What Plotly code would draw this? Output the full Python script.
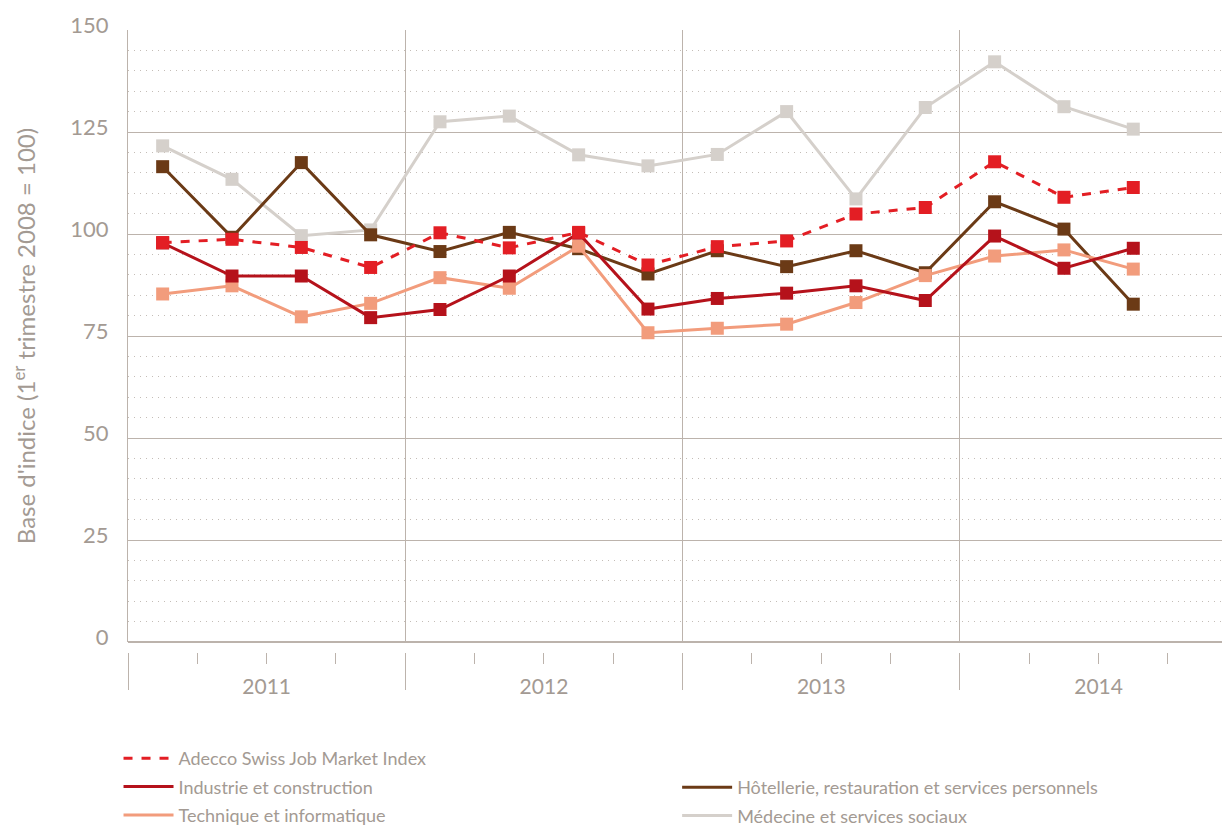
import plotly.graph_objects as go

# ---- data ----
years = ["2011", "2012", "2013", "2014"]
quarters_per_year = 4
adecco = [97.9, 98.7, 96.7, 91.8, 100.3, 96.6, 100.4, 92.4, 96.9, 98.3, 104.9, 106.5, 117.7, 109.0, 111.4]
industrie = [97.8, 89.7, 89.7, 79.5, 81.5, 89.7, 100.2, 81.6, 84.2, 85.5, 87.3, 83.7, 99.5, 91.6, 96.5]
hotellerie = [116.5, 99.2, 117.5, 99.8, 95.7, 100.4, 96.4, 90.2, 95.9, 92.0, 95.9, 90.5, 107.9, 101.2, 82.8]
technique = [85.3, 87.3, 79.7, 83.0, 89.3, 86.7, 97.0, 75.8, 76.9, 77.9, 83.2, 89.8, 94.6, 96.1, 91.4]
medecine = [121.6, 113.4, 99.6, 101.0, 127.5, 128.9, 119.4, 116.7, 119.5, 130.0, 108.6, 131.0, 142.2, 131.2, 125.7]

names = {
    "adecco": "Adecco Swiss Job Market Index",
    "industrie": "Industrie et construction",
    "hotellerie": "Hôtellerie, restauration et services personnels",
    "technique": "Technique et informatique",
    "medecine": "Médecine et services sociaux",
}
colors = {
    "adecco": "#e31e24",
    "industrie": "#b5121b",
    "hotellerie": "#6b3a16",
    "technique": "#f29c7c",
    "medecine": "#d5d0cb",
}
series = {
    "adecco": adecco,
    "industrie": industrie,
    "hotellerie": hotellerie,
    "technique": technique,
    "medecine": medecine,
}

x = [i + 0.5 for i in range(len(adecco))]

TEXT = "#a39a93"
GRID = "#bcb3ac"
FONT = "Lato, sans-serif"

fig = go.Figure()

# draw order bottom -> top
for key in ["medecine", "hotellerie", "technique", "industrie", "adecco"]:
    fig.add_trace(go.Scatter(
        x=x, y=series[key], mode="lines+markers", name=names[key],
        line=dict(color=colors[key], width=3, dash="dash" if key == "adecco" else "solid"),
        marker=dict(symbol="square", size=13, color=colors[key]),
        showlegend=False, hoverinfo="x+y+name",
    ))

# legend-only entries (lines without markers)
for key, leg in [("adecco", "legend"), ("industrie", "legend"), ("technique", "legend"),
                 ("hotellerie", "legend2"), ("medecine", "legend2")]:
    fig.add_trace(go.Scatter(
        x=[None], y=[None], mode="lines", name=names[key],
        line=dict(color=colors[key], width=3, dash="dash" if key == "adecco" else "solid"),
        legend=leg, legendgroup=key, showlegend=True,
    ))

xr = [0, 15.895]

# page has an 8px body margin, so the figure is sized/placed to compensate
W, H = 1222, 819
top, left, right = 22, 120, 0
axis_px = 644
bottom = H - axis_px
plot_h = axis_px - top
zero_px = 634
dom0 = (axis_px - zero_px) / plot_h

fig.update_layout(
    width=W, height=H,
    margin=dict(t=top, l=left, r=right, b=bottom, autoexpand=False),
    paper_bgcolor="white", plot_bgcolor="white",
    font=dict(family=FONT, color=TEXT),
    xaxis=dict(
        range=xr, anchor="free", position=0,
        tickvals=[i * quarters_per_year for i in range(len(years) + 1)],
        showticklabels=False, ticks="outside", ticklen=37, tickwidth=1, tickcolor=GRID,
        showgrid=True, gridcolor=GRID, gridwidth=1,
        minor=dict(dtick=1, tick0=0, ticks="outside", ticklen=11, tickwidth=1,
                   tickcolor=GRID, showgrid=False),
        showline=False, zeroline=False, fixedrange=True, automargin=False,
    ),
    xaxis2=dict(
        range=xr, overlaying="x", anchor="free", position=0, side="bottom",
        tickvals=[i * quarters_per_year + quarters_per_year / 2 for i in range(len(years))],
        ticktext=years, ticks="outside", ticklen=16, tickcolor="rgba(0,0,0,0)",
        tickfont=dict(size=21, color=TEXT, family=FONT),
        showgrid=False, showline=False, zeroline=False, automargin=False,
    ),
    yaxis=dict(
        domain=[dom0, 1], range=[0, 150],
        tickvals=list(range(0, 151, 25)),
        tickfont=dict(size=22, color=TEXT, family=FONT),
        ticks="outside", ticklen=14, tickcolor="rgba(0,0,0,0)",
        ticklabelshift=-5,
        showgrid=True, gridcolor=GRID, gridwidth=1,
        minor=dict(dtick=5, showgrid=True, gridcolor="#c4bdb7", griddash="1px,5px", gridwidth=1.4),
        showline=True, linecolor=GRID, linewidth=1,
        zeroline=True, zerolinecolor=GRID, zerolinewidth=2,
        automargin=False,
        title=dict(text="Base d'indice (1<sup>er</sup> trimestre 2008 = 100)",
                   font=dict(size=24, color=TEXT, family=FONT), standoff=51),
    ),
    legend=dict(
        x=-0.0086, xanchor="left", y=-0.1415, yanchor="top", orientation="v",
        font=dict(size=18, color=TEXT, family=FONT), tracegroupgap=2,
        itemwidth=50, bgcolor="rgba(0,0,0,0)",
    ),
    legend2=dict(
        x=0.4983, xanchor="left", y=-0.188, yanchor="top", orientation="v",
        font=dict(size=18, color=TEXT, family=FONT), tracegroupgap=2,
        itemwidth=50, bgcolor="rgba(0,0,0,0)",
    ),
    showlegend=True,
)

# assign overlay axis to an invisible trace so the year labels render
fig.add_trace(go.Scatter(x=[None], y=[None], xaxis="x2", showlegend=False, hoverinfo="skip"))

fig.write_html("out.html")
